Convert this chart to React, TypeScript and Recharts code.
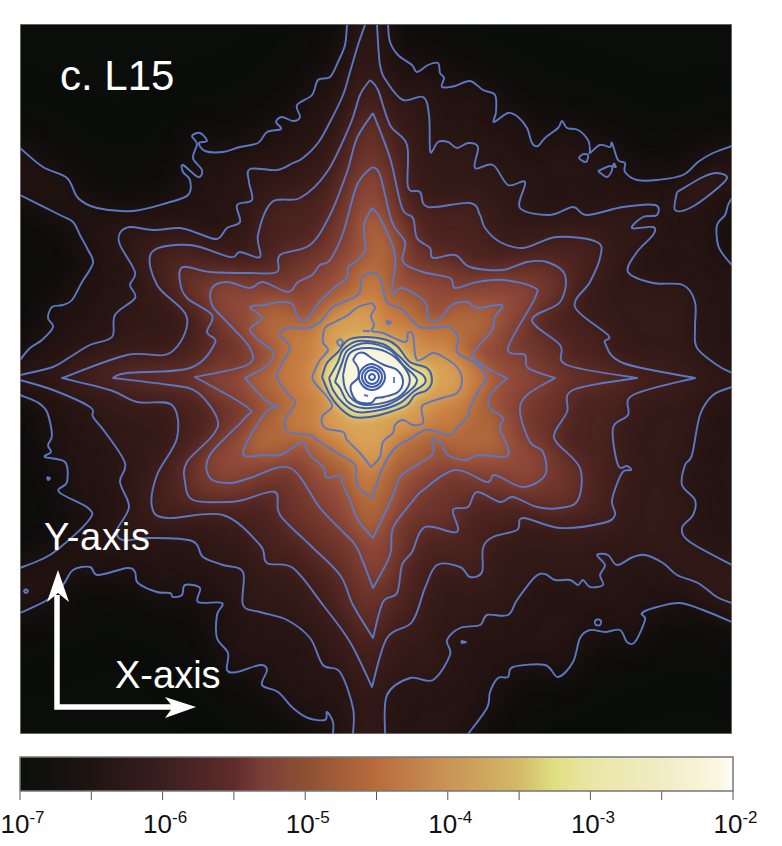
import { ScatterChart, Scatter, XAxis, YAxis } from 'recharts';

const aTopLeft = [[347,25],[345,45],[338,62],[330,77],[318,80],[312,95],[297,105],[300,117],[293,121],[282,117],[276,122],[281,129],[267,132],[258,143],[240,147],[223,152],[205,151],[199,143],[207,141],[200,133],[192,136],[197,144],[193,158],[202,170],[198,177],[183,165],[183,172],[190,180],[188,195],[167,203],[133,211],[97,208],[78,198],[67,178],[43,167],[20,148]];
const aPocketL1 = [[20,195],[60,215],[73,222],[80,235],[88,250],[93,263],[82,282],[72,300],[63,305],[52,307],[48,318],[53,327],[42,340],[30,348],[20,360]];
const aPocketL2 = [[20,395],[37,402],[47,412],[52,435],[48,445],[51,452],[45,457],[65,462],[67,482],[59,492],[88,508],[89,520],[57,550],[40,560],[20,568]];
const aBottomLeft = [[20,613],[47,600],[63,585],[73,570],[90,567],[98,575],[127,568],[135,572],[138,583],[157,592],[170,593],[173,597],[182,595],[185,585],[200,588],[198,602],[222,603],[217,615],[217,638],[228,653],[227,670],[237,672],[260,665],[267,670],[262,685],[278,692],[293,708],[308,718],[325,720],[327,712],[333,722],[333,734]];
const aBottomRight = [[468,734],[487,708],[490,692],[498,678],[508,677],[513,667],[545,665],[558,677],[573,662],[580,638],[590,630],[605,632],[620,630],[627,642],[635,642],[645,620],[642,613],[657,607],[680,603],[703,610],[732,622]];
const aPocketR = [[732,198],[728,205],[725,215],[717,225],[718,245],[725,257],[732,265]];
const aTopRight = [[388,25],[390,42],[398,55],[412,65],[417,72],[428,65],[438,63],[440,73],[444,78],[442,87],[455,86],[470,81],[483,90],[495,95],[496,112],[494,122],[508,113],[518,117],[527,128],[532,143],[538,146],[545,138],[558,128],[562,121],[567,128],[578,130],[588,140],[590,150],[590,153],[600,145],[610,147],[612,143],[618,160],[625,163],[625,172],[637,180],[657,180],[683,175],[698,162],[713,153],[732,146]];
const bTopLeft = [[365,25],[358,45],[350,72],[343,95],[330,122],[318,143],[303,158],[293,163],[277,170],[250,169],[249,182],[252,200],[237,205],[240,222],[227,228],[217,239],[197,233],[180,228],[153,230],[130,227],[120,233],[120,245],[135,272],[130,285],[135,298],[115,315],[112,337],[90,345],[70,357],[53,367],[20,375]];
const bBottomLeft = [[20,380],[53,390],[90,407],[93,417],[105,432],[125,463],[120,482],[129,507],[117,530],[123,540],[150,538],[192,541],[203,557],[223,565],[243,572],[243,605],[260,612],[287,620],[310,638],[323,665],[340,672],[353,708],[353,734]];
const bBottomRight = [[385,734],[387,695],[410,678],[433,680],[450,655],[447,640],[460,628],[480,625],[487,615],[508,615],[517,600],[535,577],[545,574],[555,580],[570,580],[578,585],[583,580],[590,587],[603,585],[600,575],[605,565],[597,555],[608,555],[617,565],[633,557],[645,555],[663,563],[677,575],[698,583],[717,597],[732,603]];
const bPocketR = [[732,387],[713,395],[700,415],[692,455],[685,465],[682,485],[695,500],[693,515],[682,528],[690,542],[732,565]];
const bTopRight = [[377,25],[380,65],[387,82],[403,100],[423,97],[429,115],[430,150],[433,150],[438,142],[448,142],[457,148],[468,143],[478,147],[475,168],[493,165],[508,185],[525,182],[520,208],[550,215],[573,207],[587,215],[623,207],[655,205],[657,215],[643,217],[632,228],[653,227],[653,235],[637,252],[628,272],[653,283],[683,285],[695,302],[695,328],[697,348],[717,365],[732,373]];
const bIsland = [[677,192],[703,177],[717,173],[727,178],[713,192],[690,208],[675,210],[677,192]];
const cLevel = [[370,80],[378,90],[390,125],[407,145],[408,187],[420,192],[428,207],[470,203],[480,215],[485,228],[500,242],[523,248],[557,237],[597,242],[600,258],[590,282],[575,307],[608,335],[605,343],[623,363],[695,378],[695,378],[695,378],[633,395],[628,415],[613,428],[618,465],[627,466],[631,470],[622,473],[612,500],[615,515],[603,523],[560,528],[523,518],[517,530],[493,537],[483,548],[482,572],[470,577],[460,567],[437,565],[425,588],[412,622],[387,638],[372,687],[372,687],[372,687],[350,642],[323,605],[293,568],[267,563],[260,545],[223,515],[167,518],[152,507],[157,475],[177,438],[172,405],[137,402],[110,390],[62,378],[62,378],[62,378],[127,355],[170,353],[187,318],[157,285],[152,252],[190,245],[230,257],[240,252],[260,257],[258,235],[272,202],[300,198],[327,172],[350,125],[360,95],[370,80]];
const dLevel = [[373,113],[390,158],[402,208],[413,218],[417,238],[430,248],[433,258],[455,255],[470,267],[502,270],[527,262],[547,262],[565,275],[560,302],[532,320],[560,345],[567,365],[637,378],[637,378],[637,378],[573,390],[567,412],[555,432],[557,443],[580,468],[578,500],[560,508],[537,507],[513,497],[500,502],[477,492],[468,507],[453,510],[457,532],[425,527],[412,552],[402,565],[397,593],[383,602],[373,638],[373,638],[373,638],[353,605],[340,575],[310,545],[280,515],[275,492],[243,500],[227,502],[193,500],[185,482],[187,462],[213,435],[217,418],[197,392],[170,385],[113,378],[113,378],[113,378],[127,373],[190,368],[215,343],[207,332],[212,315],[187,298],[180,282],[183,267],[210,272],[250,273],[277,272],[280,255],[310,245],[330,215],[347,172],[357,138],[373,113]];
const eLevel = [[372,167],[380,175],[392,222],[405,242],[403,262],[423,272],[450,278],[455,288],[477,282],[503,280],[533,287],[535,298],[508,348],[525,355],[528,368],[555,378],[555,378],[555,378],[527,395],[520,412],[530,442],[543,452],[545,475],[523,487],[495,475],[487,482],[455,470],[423,490],[412,502],[393,528],[390,555],[373,588],[373,588],[373,588],[357,548],[343,532],[320,508],[290,468],[250,478],[230,483],[210,478],[210,455],[245,418],[247,407],[195,377],[195,377],[195,377],[247,365],[250,348],[227,322],[212,305],[212,288],[227,282],[250,288],[263,282],[288,292],[298,282],[312,275],[320,265],[330,260],[343,233],[357,185],[372,167]];
const fLevel = [[372,208],[380,218],[395,255],[392,292],[403,288],[425,302],[428,318],[438,320],[452,305],[467,302],[477,308],[502,305],[495,317],[492,330],[477,348],[473,357],[487,368],[507,378],[507,378],[507,378],[490,395],[490,408],[503,418],[500,428],[508,455],[478,455],[465,460],[448,455],[440,442],[432,440],[432,455],[402,475],[392,498],[373,538],[373,538],[373,538],[358,520],[350,500],[343,485],[340,475],[327,478],[323,467],[310,455],[303,442],[292,448],[280,455],[265,455],[243,453],[265,413],[278,407],[278,407],[265,400],[245,378],[245,378],[265,367],[273,357],[272,350],[265,345],[250,330],[262,318],[250,307],[265,305],[280,302],[292,304],[297,316],[303,321],[311,315],[317,305],[335,287],[347,278],[348,267],[355,262],[365,250],[364,225],[372,208]];
const gLevel = [[372,272],[380,278],[387,302],[403,310],[420,327],[448,327],[458,337],[457,352],[470,360],[480,367],[487,378],[487,378],[477,393],[470,408],[467,417],[458,427],[450,435],[438,432],[425,430],[408,440],[395,448],[383,467],[372,498],[372,498],[357,485],[355,465],[337,453],[317,440],[311,435],[288,432],[285,420],[295,403],[287,393],[277,377],[282,363],[290,347],[280,335],[287,328],[308,328],[320,322],[333,307],[353,298],[360,292],[362,278],[372,272]];
const hLevel = [[372,303],[375,308],[371,316],[374,325],[372,331],[383,333],[405,342],[408,333],[413,335],[417,360],[433,353],[445,358],[457,367],[462,380],[457,393],[442,398],[423,405],[422,413],[423,423],[413,425],[403,420],[395,425],[393,433],[383,442],[380,457],[371,467],[371,467],[360,453],[347,440],[343,432],[325,428],[322,417],[332,407],[328,398],[313,380],[315,370],[320,360],[328,350],[323,342],[325,328],[335,322],[348,315],[358,307],[372,303]];
const iLevel1 = [[322,377],[327,363],[338,352],[348,340],[365,337],[387,340],[398,347],[410,362],[427,368],[432,380],[427,390],[415,395],[407,405],[390,412],[370,417],[353,417],[340,408],[330,395],[322,377]];
const iLevel2 = [[329,378],[338,362],[343,350],[358,341],[383,344],[398,355],[410,367],[423,375],[425,383],[413,392],[400,403],[380,410],[357,412],[343,403],[333,390],[329,378]];
const iLevel3 = [[335,382],[342,363],[348,350],[367,343],[390,350],[403,365],[417,380],[407,393],[387,405],[363,408],[348,402],[340,388],[335,382]];
const iLevel4 = [[343,375],[350,353],[370,348],[392,355],[408,373],[408,387],[393,400],[367,405],[353,400],[345,388],[343,375]];
const iLevel5 = [[353,360],[357,354],[364,353],[373,359],[384,365],[397,370],[403,381],[398,392],[384,397],[376,398],[371,403],[358,402],[352,394],[351,385],[358,378],[358,368],[353,360]];
const ringOuter = [[372,364],[381,368],[385,377],[381,386],[372,390],[363,386],[359,377],[363,368],[372,364],[381,368]];
const ringMiddle = [[372,367],[379,370],[382,377],[379,384],[372,387],[365,384],[362,377],[365,370],[372,367],[379,370]];
const ringInner = [[372,370],[377,372],[379,377],[377,382],[372,384],[367,382],[365,377],[367,372],[372,370],[377,372]];
const ringCore = [[372,374],[374,375],[375,377],[374,379],[372,380],[370,379],[369,377],[370,375],[372,374],[374,375]];
const smallLoops = [
  [[583,154],[588,155],[586,162],[579,158],[583,154]],
  [[598,171],[610,166],[612,170],[607,177],[598,171]],
  [[614,163],[616,167],[613,166],[614,163]],
  [[598,619],[601,621],[600,625],[596,625],[595,621],[598,619]],
  [[461,641],[466,642],[462,643],[461,641]],
  [[47,477],[50,478],[48,480],[47,477]],
  [[26,589],[28,591],[26,593],[24,591],[26,589]],
  [[340,339],[343,342],[340,346],[337,342],[340,339]],
  [[386,321],[391,322],[388,324],[386,321]],
  [[363,331],[370,331]],
  [[394,377],[394,383]],
  [[364,395],[368,396]],
];
const arrowShaft = [[57,595],[57,707],[175,707]];
const arrowHeadUp = [[58,570],[69,602],[58,593],[47,602]];
const arrowHeadRight = [[196,707],[165,718],[173,707],[165,697]];
const mapFrame = [[20,24],[732,24],[732,734],[20,734],[20,24]];

const colorStops = [-7, -6.5, -6, -5.5, -5.3, -5, -4.5, -4, -3.5, -3.25, -3, -2.5, -2.1, -2];
const colorValues = ['#0a100c', '#1f1412', '#3a1f1f', '#5f2c2b', '#7a3f38', '#8d5034', '#b96c3c', '#c99455', '#d4b968', '#e0df82', '#e9e6a5', '#f2ecc4', '#fbf6e0', '#fffef8'];
const colorTicks = [-7, -6.5, -6, -5.5, -5, -4.5, -4, -3.5, -3, -2.5, -2];
const colorBarBox = [[-7,0],[-2,0],[-2,1],[-7,1],[-7,0]];

const toPoints = (list: number[][]) => list.map(([x, y]) => ({ x, y }));

// curve that goes through every traced point, a repeated point gives a sharp tip
const throughPoints = (context: any) => {
  let pts: number[][] = [];
  return {
    areaStart() {},
    areaEnd() {},
    lineStart() { pts = []; },
    point(x: number, y: number) { pts.push([x, y]); },
    lineEnd() {
      context.moveTo(pts[0][0], pts[0][1]);
      for (let i = 0; i < pts.length - 1; i++) {
        const p0 = pts[Math.max(i - 1, 0)];
        const p1 = pts[i];
        const p2 = pts[i + 1];
        const p3 = pts[Math.min(i + 2, pts.length - 1)];
        if (p1[0] === p2[0] && p1[1] === p2[1]) continue;
        context.bezierCurveTo(p1[0] + (p2[0] - p0[0]) / 6, p1[1] + (p2[1] - p0[1]) / 6, p2[0] - (p3[0] - p1[0]) / 6, p2[1] - (p3[1] - p1[1]) / 6, p2[0], p2[1]);
      }
    },
  };
};

const fillA = [...aTopLeft, [0,148], [0,195], ...aPocketL1, [0,360], [0,395], ...aPocketL2, [0,568], [0,613], ...aBottomLeft, [333,760], [468,760], ...aBottomRight, [760,622], [760,265], ...[...aPocketR].reverse(), [760,198], [760,146], ...[...aTopRight].reverse(), [388,0], [347,0]];
const fillB = [...bTopLeft, [0,375], [0,380], ...bBottomLeft, [353,760], [385,760], ...bBottomRight, [760,603], [760,565], ...[...bPocketR].reverse(), [760,387], [760,373], ...[...bTopRight].reverse(), [377,0], [365,0]];

const fills: [number[][], string, number][] = [
  [fillA, '#1c1110', 24],
  [fillA, '#241412', 9],
  [fillB, '#331a17', 9],
  [bIsland, '#2e1815', 5],
  [cLevel, '#4c2320', 9],
  [dLevel, '#6e352b', 8],
  [eLevel, '#90493a', 8],
  [fLevel, '#b0683b', 7],
  [gLevel, '#c77c42', 6],
  [hLevel, '#d49048', 6],
  [hLevel, '#d8a65a', 9],
  [iLevel1, '#e3dc7f', 3],
  [iLevel2, '#ebe79d', 2],
  [iLevel3, '#f1eebb', 2],
  [iLevel4, '#f8f6dc', 2],
  [iLevel5, '#ffffff', 1],
];

const outerLines = [aTopLeft, aPocketL1, aPocketL2, aBottomLeft, aBottomRight, aPocketR, aTopRight, bTopLeft, bBottomLeft, bBottomRight, bPocketR, bTopRight, bIsland, cLevel, dLevel, eLevel, fLevel, gLevel, hLevel, ...smallLoops];
const innerLines = [iLevel1, iLevel2, iLevel3, iLevel4, iLevel5, ringOuter, ringMiddle, ringInner, ringCore];

const noDot = () => <g />;

const PowerTick = ({ x, y, payload }: any) => {
  if (!Number.isInteger(payload.value)) return <g />;
  return (
    <text x={x + 2.5} y={y + 31} textAnchor="middle" fill="#111" fontFamily="'Liberation Sans Narrow', 'Liberation Sans'" fontSize={26}>
      10<tspan dy={-10} fontSize={17}>{payload.value}</tspan>
    </text>
  );
};

const whiteText = { fill: '#fff', fontFamily: "'Liberation Sans', Arial, sans-serif" };

const App = () => (
  <div style={{ position: 'absolute', left: 0, top: 0, width: 782, height: 846, background: '#fff' }}>
    <style>{[1, 2, 3, 5, 6, 7, 8, 9, 24].map((b) => `.blur${b}{filter:blur(${b}px)}`).join('')}</style>
    <svg width={0} height={0} style={{ position: 'absolute' }}>
      <defs>
        <linearGradient id="colorbar" x1="0" y1="0" x2="1" y2="0">
          {colorStops.map((s, i) => (
            <stop key={s} offset={(s + 7) / 5} stopColor={colorValues[i]} />
          ))}
        </linearGradient>
      </defs>
    </svg>
    <div style={{ position: 'absolute', left: 20, top: 24 }}>
      <ScatterChart width={712} height={710} margin={{ top: 0, right: 0, bottom: 0, left: 0 }}>
        <XAxis type="number" dataKey="x" domain={[20, 732]} hide allowDataOverflow />
        <YAxis type="number" dataKey="y" domain={[24, 734]} reversed hide allowDataOverflow />
        <Scatter data={toPoints(mapFrame)} shape={noDot} line={{ fill: '#0b0d0b', stroke: 'none' }} isAnimationActive={false} />
        {fills.map(([list, color, blur], i) => (
          <Scatter key={`fill-${i}`} className={`blur${blur}`} data={toPoints(list)} shape={noDot} lineJointType={throughPoints as any} line={{ fill: color, stroke: 'none' }} isAnimationActive={false} />
        ))}
        {outerLines.map((list, i) => (
          <Scatter key={`line-${i}`} data={toPoints(list)} shape={noDot} lineJointType={throughPoints as any} line={{ stroke: '#5a78c4', strokeWidth: 1.9, strokeLinejoin: 'round', fill: 'none' }} isAnimationActive={false} />
        ))}
        {innerLines.map((list, i) => (
          <Scatter key={`inner-${i}`} data={toPoints(list)} shape={noDot} lineJointType={throughPoints as any} line={{ stroke: '#3f5da9', strokeWidth: 2, strokeLinejoin: 'round', fill: 'none' }} isAnimationActive={false} />
        ))}
        <Scatter data={toPoints(arrowShaft)} shape={noDot} line={{ stroke: '#fff', strokeWidth: 5.5, fill: 'none' }} isAnimationActive={false} />
        <Scatter data={toPoints(arrowHeadUp)} shape={noDot} line={{ fill: '#fff', stroke: 'none' }} isAnimationActive={false} />
        <Scatter data={toPoints(arrowHeadRight)} shape={noDot} line={{ fill: '#fff', stroke: 'none' }} isAnimationActive={false} />
        <Scatter data={toPoints(mapFrame)} shape={noDot} line={{ stroke: '#808080', strokeWidth: 1.5, fill: 'none' }} isAnimationActive={false} />
      </ScatterChart>
    </div>
    <svg width={782} height={740} style={{ position: 'absolute', left: 0, top: 0, pointerEvents: 'none' }}>
      <text x={60} y={90} fontSize={42} {...whiteText}>c. L15</text>
      <text x={44} y={550} fontSize={38} letterSpacing={0.8} {...whiteText}>Y-axis</text>
      <text x={115} y={688} fontSize={38} {...whiteText}>X-axis</text>
    </svg>
    <div style={{ position: 'absolute', left: 0, top: 740 }}>
      <ScatterChart width={782} height={106} margin={{ top: 8, right: 49, bottom: 0, left: 20 }}>
        <XAxis xAxisId="top" orientation="top" type="number" dataKey="x" domain={[-7, -2]} ticks={colorTicks} interval={0} height={9} tickSize={9} tick={false} axisLine={false} tickLine={{ stroke: '#555' }} />
        <XAxis xAxisId="bottom" type="number" dataKey="x" domain={[-7, -2]} ticks={colorTicks} interval={0} height={55} tickSize={9} tick={<PowerTick />} axisLine={false} tickLine={{ stroke: '#555' }} />
        <YAxis type="number" dataKey="y" domain={[0, 1]} hide />
        <Scatter xAxisId="top" data={toPoints(colorBarBox)} shape={noDot} line={{ stroke: 'none', fill: 'none' }} isAnimationActive={false} />
        <Scatter xAxisId="bottom" data={toPoints(colorBarBox)} shape={noDot} line={{ fill: 'url(#colorbar)', stroke: '#777', strokeWidth: 1.5 }} isAnimationActive={false} />
      </ScatterChart>
    </div>
  </div>
);

export default App;
